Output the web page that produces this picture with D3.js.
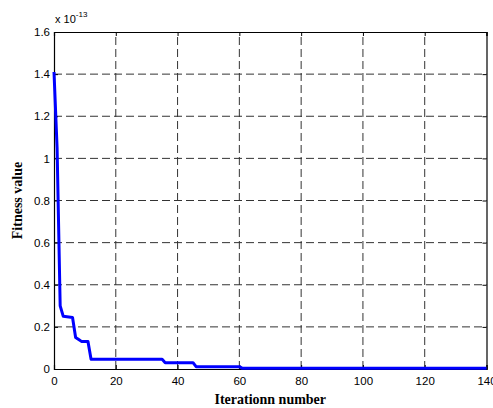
<!DOCTYPE html>
<html><head><meta charset="utf-8">
<script src="https://cdn.jsdelivr.net/npm/d3@7"></script>
<style>body{margin:0;background:#fff}svg{display:block}</style>
</head><body>
<script>
const iterations = [0, 1, 2, 3, 6, 7, 8, 9, 11, 12, 35, 36, 45, 46, 60, 61, 140];
const fitness   = [1.41, 1.05, 0.30, 0.25, 0.245, 0.15, 0.14, 0.13, 0.13, 0.046, 0.046, 0.030, 0.030, 0.011, 0.011, 0.003, 0.003];
const xTicks = [0, 20, 40, 60, 80, 100, 120, 140];
const yTicks = [0, 0.2, 0.4, 0.6, 0.8, 1, 1.2, 1.4, 1.6];
const xLabel = "Iterationn number";
const yLabel = "Fitness value";

const W = 493, H = 408;
const m = {l: 54, r: 6.5, t: 32, b: 39};
const svg = d3.select("body").append("svg").attr("width", W).attr("height", H);
const x = d3.scaleLinear().domain([0, 140]).range([m.l, W - m.r]);
const y = d3.scaleLinear().domain([0, 1.6]).range([H - m.b, m.t]);

// grid
const g = svg.append("g");
g.selectAll(".gx").data(xTicks.slice(1, -1)).enter().append("line")
  .attr("x1", d => x(d)).attr("x2", d => x(d)).attr("y1", y(0)).attr("y2", y(1.6))
  .attr("stroke", "#333").attr("stroke-width", 1).attr("stroke-dasharray", "8,4");
g.selectAll(".gy").data(yTicks.slice(1, -1)).enter().append("line")
  .attr("y1", d => y(d)).attr("y2", d => y(d)).attr("x1", x(0)).attr("x2", x(140))
  .attr("stroke", "#333").attr("stroke-width", 1).attr("stroke-dasharray", "8,4");

// axes
const font = "'Liberation Sans', Arial, sans-serif";
const ax = svg.append("g").attr("transform", `translate(0,${y(0)})`)
  .call(d3.axisBottom(x).tickValues(xTicks).tickSize(-4).tickPadding(8).tickFormat(d3.format("d")));
const ay = svg.append("g").attr("transform", `translate(${x(0)},0)`)
  .call(d3.axisLeft(y).tickValues(yTicks).tickSize(-4).tickPadding(4).tickFormat(d => d === 0 ? "0" : d3.format("~g")(d)));
svg.append("g").attr("transform", `translate(0,${y(1.6)})`)
  .call(d3.axisTop(x).tickValues(xTicks).tickSize(-4).tickFormat(""));
svg.append("g").attr("transform", `translate(${x(140)},0)`)
  .call(d3.axisRight(y).tickValues(yTicks).tickSize(-4).tickFormat(""));
svg.selectAll(".domain").attr("stroke", "#000").attr("stroke-width", 1.2);
svg.selectAll(".tick line").attr("stroke", "#000");
svg.selectAll(".tick text").attr("font-family", font).attr("font-size", 11.5).attr("fill", "#000");

// curve
const line = d3.line().x((d, i) => x(iterations[i])).y(d => y(d));
svg.append("path").datum(fitness).attr("d", line)
  .attr("fill", "none").attr("stroke", "#0000ff").attr("stroke-width", 3).attr("stroke-linejoin", "round");

// exponent
const ex = svg.append("text").attr("x", x(0) + 1).attr("y", 23)
  .attr("font-family", font).attr("font-size", 11).attr("fill", "#000");
ex.append("tspan").text("x 10");
ex.append("tspan").attr("dy", -6).attr("font-size", 8).text("-13");

// labels
const serif = "'Liberation Serif', 'Times New Roman', serif";
svg.append("text").attr("x", (x(0) + x(140)) / 2).attr("y", 404).attr("text-anchor", "middle")
  .attr("font-family", serif).attr("font-weight", "bold").attr("font-size", 14).text(xLabel);
svg.append("text").attr("transform", `translate(22,${(y(0) + y(1.6)) / 2}) rotate(-90)`).attr("text-anchor", "middle")
  .attr("font-family", serif).attr("font-weight", "bold").attr("font-size", 14).text(yLabel);
</script>
</body></html>
